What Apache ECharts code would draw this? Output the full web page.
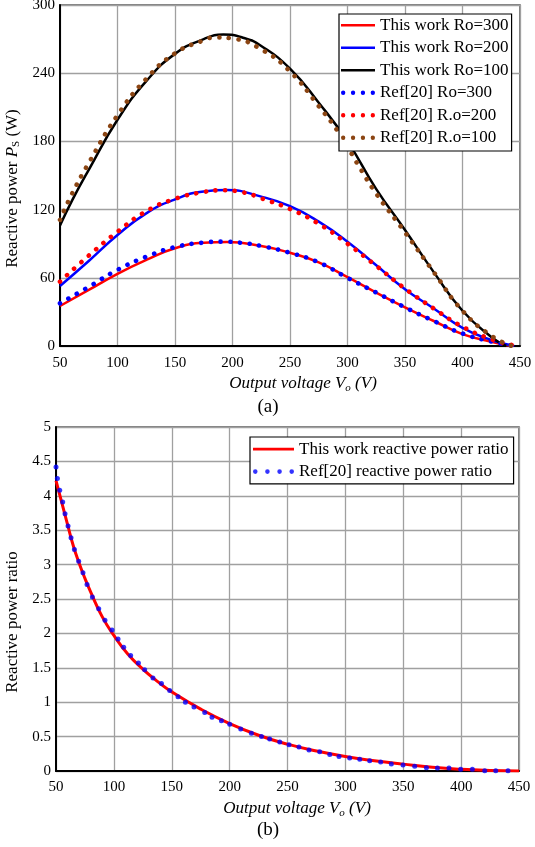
<!DOCTYPE html>
<html><head><meta charset="utf-8">
<script src="https://cdn.jsdelivr.net/npm/echarts/dist/echarts.min.js"></script>
<style>html,body{margin:0;padding:0;background:#fff}#c{width:535px;height:847px}</style>
</head><body><div id="c"></div>
<script>
// ---------- data (top chart: reactive power Ps [W] vs output voltage Vo [V]) ----------
const thisWorkRo300 = [[50,35.2],[75,49.3],[100,63.5],[125,75.7],[150,86],[175,90.9],[195,91.5],[225,88],[250,82],[275,73.5],[300,60.5],[325,47],[350,34],[375,22],[400,10.5],[425,3.8],[442,0]];
const thisWorkRo200 = [[50,52.8],[75,74.8],[100,97.6],[125,116.7],[150,129],[175,136],[195,137.2],[225,131.4],[250,123],[275,109.4],[300,91.8],[325,71],[350,50],[375,33],[400,16],[425,5.3],[445,0]];
const thisWorkRo100 = [[50,106],[61,129],[75,155],[100,199],[125,233],[150,257],[175,270],[192,274],[210,271],[225,264],[250,244],[275,214],[300,180],[325,138],[350,102],[375,65],[400,31],[425,8],[438,0]];
const ref20Ro300 = [[50,37.5],[75,52],[100,67],[125,78.5],[150,87],[175,91],[190,91.8],[210,90.5],[225,88],[250,82],[275,73.5],[300,60],[325,47],[350,34],[375,22],[400,11],[425,4],[445,0]];
const ref20Ro200 = [[50,56.6],[75,79.5],[100,100.5],[125,118.5],[150,129.5],[175,135.5],[190,137],[210,135],[225,130],[250,120.5],[275,107.5],[300,90],[325,70.5],[350,50.5],[375,33],[400,17],[425,6],[447,0]];
const ref20Ro100 = [[50,111],[60,133],[75,161],[100,203],[125,235],[150,257.5],[175,269],[185,271.5],[200,270.5],[225,261],[250,241.5],[275,211],[293.5,186],[310,158],[325,134],[350,100],[375,65],[400,31],[425,9],[443,0]];

// ---------- data (bottom chart: reactive power ratio vs output voltage) ----------
const thisWorkRatio = [[50,4.22],[55,3.9],[60,3.58],[65,3.27],[70,3.02],[75,2.8],[80,2.6],[90,2.24],[100,1.97],[112,1.7],[125,1.48],[137,1.31],[150,1.15],[175,0.9],[200,0.69],[225,0.52],[250,0.39],[275,0.29],[300,0.21],[325,0.15],[350,0.1],[375,0.055],[400,0.025],[425,0.008],[450,0]];
const ref20Ratio = [[50,4.42],[51.2,4.25],[53.2,4.08],[55.8,3.91],[57.8,3.74],[60.4,3.56],[63,3.39],[65.9,3.22],[69.6,3.05],[73.3,2.88],[76.8,2.71],[81.4,2.53],[86.9,2.36],[92.3,2.19],[98.4,2.05],[103.6,1.92],[108.5,1.8],[114.5,1.68],[121.2,1.57],[126.6,1.47],[133.8,1.35],[141.1,1.27],[148.2,1.17],[155.4,1.08],[161.8,1.0],[169.2,0.93],[178.5,0.85],[184.8,0.78],[192.9,0.73],[200.1,0.68],[209.6,0.61],[218.8,0.55],[227.5,0.5],[234.6,0.465],[243.3,0.42],[251.3,0.38],[259.9,0.35],[268.6,0.305],[277.8,0.28],[286.5,0.24],[294.5,0.21],[303.7,0.19],[312.4,0.17],[321,0.15],[330.5,0.13],[339.7,0.1],[349.8,0.087],[359.9,0.068],[370,0.048],[379.5,0.044],[389.5,0.044],[399.6,0.025],[409.7,0.025],[420.4,0.004],[429.9,0.004],[440.5,0.004]];

const topNames = ['This work Ro=300','This work Ro=200','This work Ro=100','Ref[20] Ro=300','Ref[20] R.o=200','Ref[20] R.o=100'];
const bottomNames = ['This work reactive power ratio','Ref[20] reactive power ratio'];
const topYAxis = {min:0, max:300, interval:60};
const bottomYAxis = {min:0, max:5, interval:0.5};
const voltAxis = {min:50, max:450, interval:50};

// ---------- styling ----------
const FONT = '"Liberation Serif","Times New Roman",serif';
const RED = '#ff0000', BLUE = '#0000ff', BLACK = '#000000', BROWN = '#8b4513';
function dots(n, gap, r){
  let p = 'path://';
  for (let i=0;i<n;i++){ const x=i*gap; p += `M${x},${r}a${r},${r} 0 1,0 ${2*r},0a${r},${r} 0 1,0 ${-2*r},0Z`; }
  return p;
}
const dotIconTop = dots(4, 10, 2.2);
const dotIconBot = dots(4, 11.7, 2.2);
const barIconTop = 'path://M0,0H34V2.4H0Z';
const barIconBot = 'path://M0,0H41V2.8H0Z';

function xAxisCfg(gi, gapPad, margin, nameGap){
  return {
    type:'value', gridIndex:gi, min:voltAxis.min, max:voltAxis.max, interval:voltAxis.interval,
    name:'{i|Output voltage V}{s|o}{i| (V)}', nameLocation:'middle', nameGap:nameGap,
    nameTextStyle:{padding:[0,0,0,gapPad], rich:{
      i:{fontFamily:FONT, fontStyle:'italic', fontSize:17, color:'#000', lineHeight:20},
      s:{fontFamily:FONT, fontStyle:'italic', fontSize:11, color:'#000', lineHeight:11, padding:[8,0,0,0]}
    }},
    axisLine:{show:true, onZero:false, lineStyle:{color:'#000', width:2}},
    axisTick:{show:false},
    axisLabel:{fontFamily:FONT, fontSize:15, color:'#000', margin:margin},
    splitLine:{show:true, lineStyle:{color:'#a0a0a0', width:1.3}}
  };
}
function yAxisCfg(gi, ax, name, gap, padR){
  return {
    type:'value', gridIndex:gi, min:ax.min, max:ax.max, interval:ax.interval,
    name:name, nameLocation:'middle', nameGap:gap,
    nameTextStyle:{padding:[0,padR,0,0], rich:{
      n:{fontFamily:FONT, fontSize:17, color:'#000', lineHeight:20},
      i:{fontFamily:FONT, fontStyle:'italic', fontSize:17, color:'#000', lineHeight:20},
      s:{fontFamily:FONT, fontSize:11, color:'#000', lineHeight:11, padding:[8,0,0,0]}
    }},
    axisLine:{show:true, lineStyle:{color:'#000', width:2}},
    axisTick:{show:false},
    axisLabel:{fontFamily:FONT, fontSize:15, color:'#000', margin:5},
    splitLine:{show:true, lineStyle:{color:'#a0a0a0', width:1.3}}
  };
}
function solid(name, data, color, xi, w){
  return {name, type:'line', xAxisIndex:xi, yAxisIndex:xi, data, smooth:0.5, symbol:'none',
    lineStyle:{color, width:w}, itemStyle:{color}, z:2, silent:true};
}
function dotted(name, data, color){
  return {name, type:'line', xAxisIndex:0, yAxisIndex:0, data, smooth:0.5, symbol:'none',
    lineStyle:{color, width:4.6, type:[0.1,9.6], cap:'round'}, itemStyle:{color}, z:3, silent:true};
}

const chart = echarts.init(document.getElementById('c'), null, {renderer:'canvas'});
chart.setOption({
  animation:false,
  backgroundColor:'#fff',
  grid:[
    {left:60, top:5, width:460, height:341, show:true, borderColor:'#555', borderWidth:1.5, outerBoundsMode:'none'},
    {left:56, top:427, width:463, height:344, show:true, borderColor:'#555', borderWidth:1.5, outerBoundsMode:'none'}
  ],
  xAxis:[ xAxisCfg(0, 26, 10, 28), xAxisCfg(1, 19, 9, 28) ],
  yAxis:[
    yAxisCfg(0, topYAxis, '{n|Reactive power }{i|P}{s|S}{n| (W)}', 34, 26),
    yAxisCfg(1, bottomYAxis, '{n|Reactive power ratio}', 27, 46)
  ],
  legend:[
    {orient:'vertical', left:339, top:14, padding:[0,3,2,2], itemGap:0, itemWidth:34, itemHeight:14,
     backgroundColor:'#fff', borderColor:'#000', borderWidth:1.2, z:10,
     textStyle:{fontFamily:FONT, fontSize:17, color:'#000', lineHeight:22.5},
     data:[
       {name:topNames[0], icon:barIconTop},{name:topNames[1], icon:barIconTop},{name:topNames[2], icon:barIconTop},
       {name:topNames[3], icon:dotIconTop},{name:topNames[4], icon:dotIconTop},{name:topNames[5], icon:dotIconTop}
     ]},
    {orient:'vertical', left:250, top:437, padding:[1,5,1,3], itemGap:0, itemWidth:41, itemHeight:14,
     backgroundColor:'#fff', borderColor:'#000', borderWidth:1.2, z:10,
     textStyle:{fontFamily:FONT, fontSize:17, color:'#000', lineHeight:22.4},
     data:[{name:bottomNames[0], icon:barIconBot},{name:bottomNames[1], icon:dotIconBot}]}
  ],
  graphic:[
    {type:'text', x:268, y:407, style:{text:'(a)', font:'19px '+FONT, fill:'#000', align:'center', verticalAlign:'middle'}},
    {type:'text', x:268, y:830, style:{text:'(b)', font:'19px '+FONT, fill:'#000', align:'center', verticalAlign:'middle'}}
  ],
  series:[
    solid(topNames[0], thisWorkRo300, RED, 0, 2.5),
    solid(topNames[1], thisWorkRo200, BLUE, 0, 2.5),
    solid(topNames[2], thisWorkRo100, BLACK, 0, 2.5),
    dotted(topNames[3], ref20Ro300, BLUE),
    dotted(topNames[4], ref20Ro200, RED),
    dotted(topNames[5], ref20Ro100, BROWN),
    solid(bottomNames[0], thisWorkRatio, RED, 1, 3),
    {name:bottomNames[1], type:'scatter', xAxisIndex:1, yAxisIndex:1, data:ref20Ratio, symbol:'circle', symbolSize:5,
     itemStyle:{color:BLUE}, z:3, silent:true}
  ]
});
</script>
</body></html>
